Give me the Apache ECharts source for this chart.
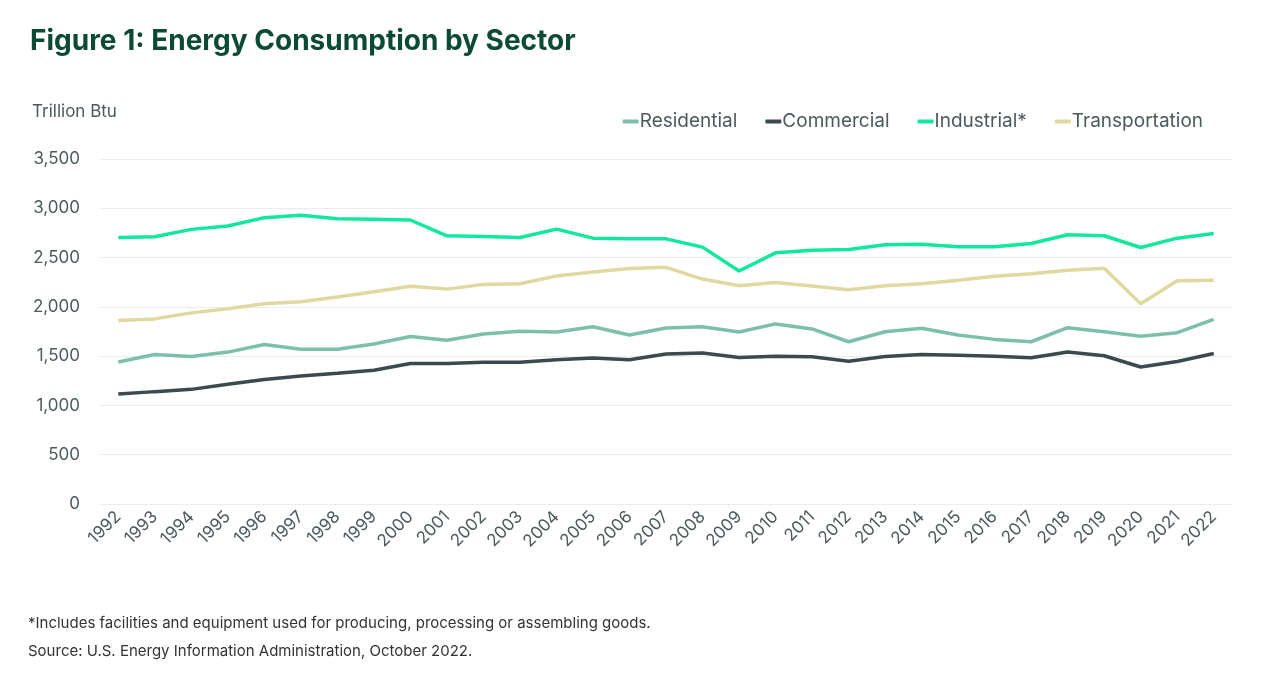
<!DOCTYPE html>
<html>
<head>
<meta charset="utf-8">
<script src="https://cdn.jsdelivr.net/npm/echarts@6/dist/echarts.min.js"></script>
<style>
  html, body { margin: 0; padding: 0; background: #fff; }
  #chart { width: 1280px; height: 686px; }
</style>
</head>
<body>
<div id="chart"></div>
<script>
var years = ['1992','1993','1994','1995','1996','1997','1998','1999','2000','2001',
    '2002','2003','2004','2005','2006','2007','2008','2009','2010','2011',
    '2012','2013','2014','2015','2016','2017','2018','2019','2020','2021','2022'];

var residential = [1440, 1517, 1497, 1541, 1619, 1570, 1570, 1623, 1700, 1662,
    1725, 1752, 1745, 1799, 1714, 1786, 1799, 1745, 1827, 1776,
    1646, 1748, 1782, 1714, 1670, 1646, 1789, 1748, 1701, 1738, 1874];

var commercial = [1115, 1140, 1163, 1214, 1262, 1299, 1327, 1357, 1425, 1425,
    1439, 1439, 1463, 1480, 1463, 1521, 1531, 1487, 1500, 1493,
    1449, 1497, 1517, 1510, 1500, 1483, 1541, 1504, 1390, 1446, 1527];

var industrial = [2704, 2711, 2786, 2820, 2905, 2929, 2895, 2888, 2881, 2721,
    2714, 2704, 2789, 2697, 2690, 2690, 2606, 2364, 2548, 2575,
    2582, 2629, 2636, 2609, 2609, 2643, 2731, 2721, 2602, 2697, 2745];

var transportation = [1861, 1878, 1939, 1980, 2031, 2051, 2099, 2153, 2208, 2180,
    2228, 2235, 2313, 2354, 2388, 2401, 2282, 2214, 2248, 2211,
    2174, 2214, 2235, 2269, 2310, 2337, 2371, 2391, 2031, 2265, 2269];

var textColor = '#4b5a5b';
var font = 'Inter, "Open Sans", sans-serif';

function line(name, data, color) {
    return {
        name: name,
        type: 'line',
        data: data,
        symbol: 'none',
        lineStyle: { color: color, width: 3.5 },
        itemStyle: { color: color }
    };
}

var myChart = echarts.init(document.getElementById('chart'));
var option = {
    backgroundColor: '#fff',
    animation: false,
    textStyle: { fontFamily: font },
    title: [{
        text: 'Figure 1: Energy Consumption by Sector',
        left: 25, top: 23,
        textStyle: { color: '#0b4a33', fontSize: 28, fontWeight: 'bold', fontFamily: font }
    }, {
        text: 'Trillion Btu',
        left: 27, top: 98,
        textStyle: { color: textColor, fontSize: 17, fontWeight: 'normal', fontFamily: font }
    }, {
        text: '*Includes facilities and equipment used for producing, processing or assembling goods.',
        left: 23, top: 611,
        textStyle: { color: '#333', fontSize: 15, fontWeight: 'normal', fontFamily: font }
    }, {
        text: 'Source: U.S. Energy Information Administration, October 2022.',
        left: 23, top: 639,
        textStyle: { color: '#333', fontSize: 15, fontWeight: 'normal', fontFamily: font }
    }],
    legend: {
        top: 107,
        right: 72,
        icon: 'roundRect',
        itemWidth: 16,
        itemHeight: 4,
        itemGap: 28,
        textStyle: { color: textColor, fontSize: 19, fontFamily: font, padding: [0, 0, 0, -4] },
        data: ['Residential', 'Commercial', 'Industrial*', 'Transportation']
    },
    grid: { left: 100, right: 48, top: 159, bottom: 182 },
    xAxis: {
        type: 'category',
        data: years,
        boundaryGap: true,
        axisLine: { show: false },
        axisTick: { show: false },
        axisLabel: { rotate: 45, color: textColor, fontSize: 17, margin: 10, fontFamily: font }
    },
    yAxis: {
        type: 'value',
        min: 0,
        max: 3500,
        interval: 500,
        axisLine: { show: false },
        axisTick: { show: false },
        splitLine: { lineStyle: { color: '#eceeee', width: 1 } },
        axisLabel: {
            color: textColor, fontSize: 17, margin: 20, fontFamily: font,
            formatter: function (v) { return v.toLocaleString('en-US'); }
        }
    },
    series: [
        line('Residential', residential, '#7dbfad'),
        line('Commercial', commercial, '#3b4a4c'),
        line('Industrial*', industrial, '#12e89b'),
        line('Transportation', transportation, '#dfd9a0')
    ]
};
myChart.setOption(option);
</script>
</body>
</html>
